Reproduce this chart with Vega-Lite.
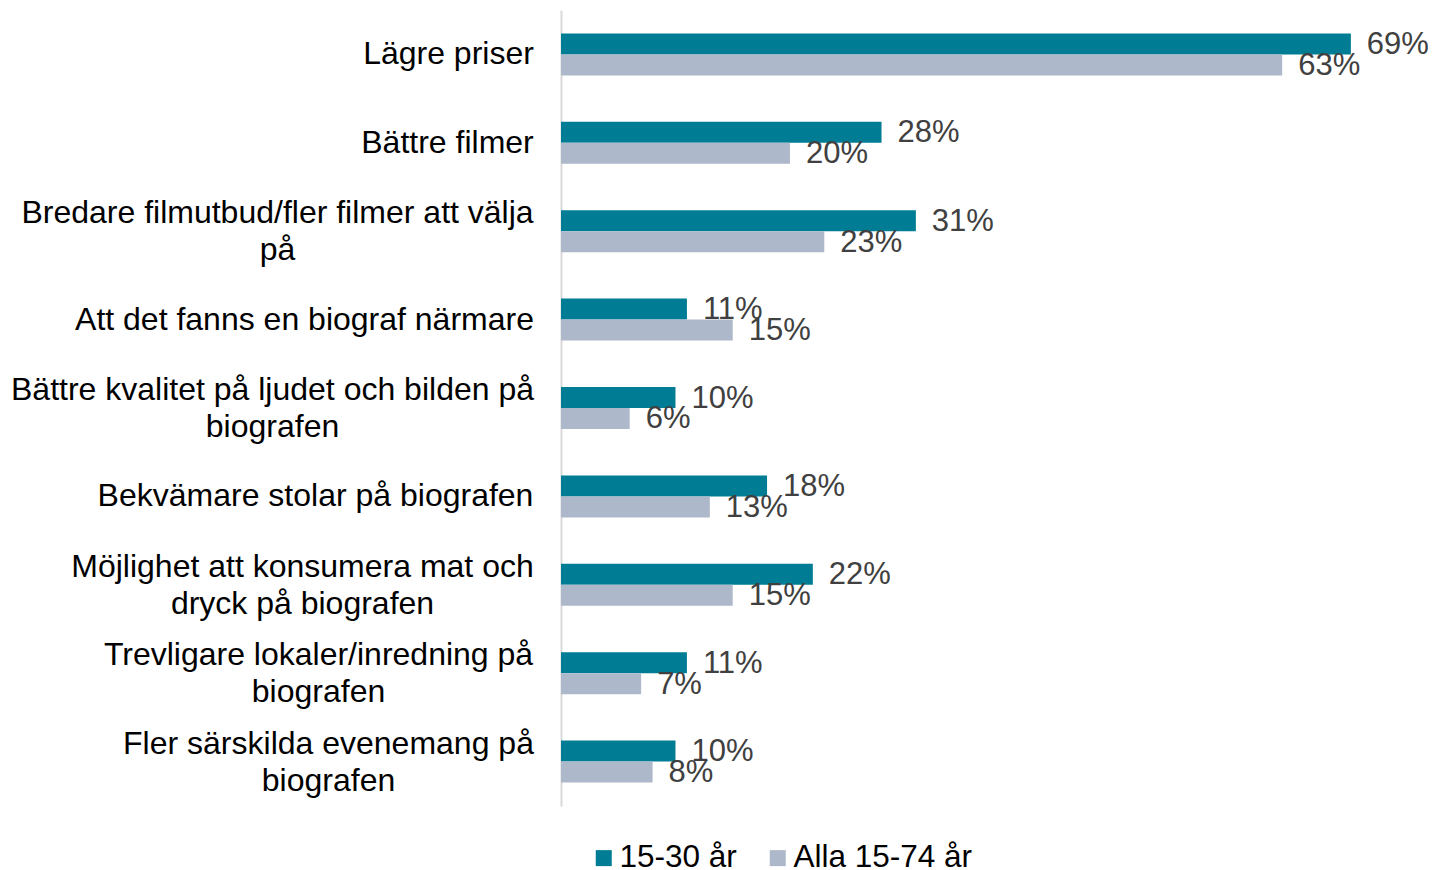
{
  "$schema": "https://vega.github.io/schema/vega-lite/v6.json",
  "width": 870,
  "height": 796,
  "autosize": "none",
  "padding": {"left": 561, "top": 10, "right": 4, "bottom": 64},
  "background": "white",
  "config": {
    "view": {"stroke": null},
    "font": "Liberation Sans"
  },
  "data": {
    "values": [
      {"cat": "Lägre priser", "serie": "15-30 år", "andel": 0.69},
      {"cat": "Lägre priser", "serie": "Alla 15-74 år", "andel": 0.63},
      {"cat": "Bättre filmer", "serie": "15-30 år", "andel": 0.28},
      {"cat": "Bättre filmer", "serie": "Alla 15-74 år", "andel": 0.20},
      {"cat": "Bredare filmutbud/fler filmer att välja|på", "serie": "15-30 år", "andel": 0.31},
      {"cat": "Bredare filmutbud/fler filmer att välja|på", "serie": "Alla 15-74 år", "andel": 0.23},
      {"cat": "Att det fanns en biograf närmare", "serie": "15-30 år", "andel": 0.11},
      {"cat": "Att det fanns en biograf närmare", "serie": "Alla 15-74 år", "andel": 0.15},
      {"cat": "Bättre kvalitet på ljudet och bilden på|biografen", "serie": "15-30 år", "andel": 0.10},
      {"cat": "Bättre kvalitet på ljudet och bilden på|biografen", "serie": "Alla 15-74 år", "andel": 0.06},
      {"cat": "Bekvämare stolar på biografen", "serie": "15-30 år", "andel": 0.18},
      {"cat": "Bekvämare stolar på biografen", "serie": "Alla 15-74 år", "andel": 0.13},
      {"cat": "Möjlighet att konsumera mat och|dryck på biografen", "serie": "15-30 år", "andel": 0.22},
      {"cat": "Möjlighet att konsumera mat och|dryck på biografen", "serie": "Alla 15-74 år", "andel": 0.15},
      {"cat": "Trevligare lokaler/inredning på|biografen", "serie": "15-30 år", "andel": 0.11},
      {"cat": "Trevligare lokaler/inredning på|biografen", "serie": "Alla 15-74 år", "andel": 0.07},
      {"cat": "Fler särskilda evenemang på|biografen", "serie": "15-30 år", "andel": 0.10},
      {"cat": "Fler särskilda evenemang på|biografen", "serie": "Alla 15-74 år", "andel": 0.08}
    ]
  },
  "encoding": {
    "y": {
      "field": "cat",
      "type": "nominal",
      "sort": null,
      "title": null,
      "scale": {"paddingInner": 0.525, "paddingOuter": 0.265},
      "axis": {
        "ticks": false,
        "tickSize": 0,
        "domainColor": "#D9D9D9",
        "domainWidth": 2,
        "labelFont": "Liberation Sans",
        "labelFontSize": 32,
        "labelColor": "#000000",
        "labelLimit": 1000,
        "labelLineHeight": 37,
        "labelAlign": "center",
        "labelBaseline": "middle",
        "labelExpr": "split(datum.label, '|')",
        "labelOffset": {"expr": "indexof(datum.value, '|') >= 0 ? -18 : 0"},
        "labelPadding": {"expr": "datum.value == 'Lägre priser' ? 113 : datum.value == 'Bättre filmer' ? 114 : indexof(datum.value, 'Bredare') == 0 ? 284 : indexof(datum.value, 'Att det') == 0 ? 257 : indexof(datum.value, 'Bättre kvalitet') == 0 ? 289 : indexof(datum.value, 'Bekvämare') == 0 ? 246 : indexof(datum.value, 'Möjlighet') == 0 ? 259 : indexof(datum.value, 'Trevligare') == 0 ? 243 : 233"}
      }
    },
    "yOffset": {
      "field": "serie",
      "type": "nominal",
      "sort": ["15-30 år", "Alla 15-74 år"],
      "scale": {"paddingInner": 0, "paddingOuter": 0}
    },
    "x": {
      "field": "andel",
      "type": "quantitative",
      "scale": {"domain": [0, 0.76], "nice": false, "zero": true},
      "axis": null
    }
  },
  "layer": [
    {
      "mark": {"type": "bar"},
      "encoding": {
        "color": {
          "field": "serie",
          "type": "nominal",
          "sort": ["15-30 år", "Alla 15-74 år"],
          "scale": {"domain": ["15-30 år", "Alla 15-74 år"], "range": ["#007D94", "#ADB8CA"]},
          "legend": {
            "title": null,
            "orient": "none",
            "direction": "horizontal",
            "legendX": 27,
            "legendY": 832,
            "padding": 0,
            "symbolType": "square",
            "symbolSize": 256,
            "symbolStrokeWidth": 0,
            "labelFont": "Liberation Sans",
            "labelFontSize": 31.5,
            "labelColor": "#000000",
            "labelOffset": 0,
            "columnPadding": 25,
            "labelLimit": 500
          }
        }
      }
    },
    {
      "mark": {"type": "text", "align": "left", "baseline": "middle", "dx": 16, "dy": 1, "fontSize": 31, "font": "Liberation Sans", "color": "#404040"},
      "encoding": {
        "text": {"field": "andel", "type": "quantitative", "format": ".0%"}
      }
    }
  ]
}
